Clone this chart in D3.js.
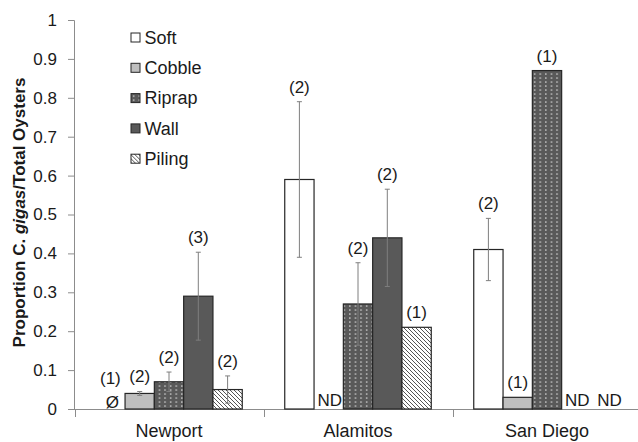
<!DOCTYPE html>
<html>
<head>
<meta charset="utf-8">
<script src="https://cdn.jsdelivr.net/npm/d3@7/dist/d3.min.js"></script>
<style>
  html, body { margin: 0; padding: 0; background: #fff; }
  svg { display: block; font-family: "Liberation Sans", Arial, Helvetica, sans-serif; }
</style>
</head>
<body>
<svg id="chart" width="638" height="442"></svg>
<script>
// Sites and substrate types
const sites = ["Newport", "Alamitos", "San Diego"];
const types = ["Soft", "Cobble", "Riprap", "Wall", "Piling"];

// Mean proportion per type, one entry per site (null = no data)
const soft   = [0,    0.59, 0.41];
const cobble = [0.04, null, 0.03];
const riprap = [0.07, 0.27, 0.87];
const wall   = [0.29, 0.44, null];
const piling = [0.05, 0.21, null];

// Error bar half-widths (null = none drawn)
const softErr   = [null,  0.20,  0.08];
const cobbleErr = [0.005, null,  null];
const riprapErr = [0.025, 0.106, null];
const wallErr   = [0.113, 0.125, null];
const pilingErr = [0.035, null,  null];

// Sample sizes shown above each bar (null = ND)
const softN   = [1, 2, 2];
const cobbleN = [2, null, 1];
const riprapN = [2, 2, 1];
const wallN   = [3, 2, null];
const pilingN = [2, 1, null];

const yTicks = [0, 0.1, 0.2, 0.3, 0.4, 0.5, 0.6, 0.7, 0.8, 0.9, 1];

const seriesValues = [soft, cobble, riprap, wall, piling];
const seriesErrors = [softErr, cobbleErr, riprapErr, wallErr, pilingErr];
const seriesN = [softN, cobbleN, riprapN, wallN, pilingN];

const rows = [];
sites.forEach((site, si) => {
  types.forEach((type, ti) => {
    rows.push({
      site, type,
      value: seriesValues[ti][si],
      err: seriesErrors[ti][si],
      n: seriesN[ti][si]
    });
  });
});

const svg = d3.select("#chart");

// Fill patterns
const defs = svg.append("defs");
const dots = defs.append("pattern")
  .attr("id", "pat-riprap").attr("patternUnits", "userSpaceOnUse")
  .attr("width", 5.6).attr("height", 4);
dots.append("rect").attr("width", 5.6).attr("height", 4).attr("fill", "#595959");
dots.append("rect").attr("x", 2).attr("y", 1.4).attr("width", 1.3).attr("height", 1.3).attr("fill", "#e6e6e6");

const hatch = defs.append("pattern")
  .attr("id", "pat-piling").attr("patternUnits", "userSpaceOnUse")
  .attr("width", 4).attr("height", 4);
hatch.append("rect").attr("width", 4).attr("height", 4).attr("fill", "#fff");
hatch.append("path").attr("d", "M0,0 L4,4 M-1,3 L1,5 M3,-1 L5,1")
  .attr("stroke", "#555").attr("stroke-width", 1);

const fills = {
  Soft: "#ffffff",
  Cobble: "#bfbfbf",
  Riprap: "url(#pat-riprap)",
  Wall: "#595959",
  Piling: "url(#pat-piling)"
};

// Scales
const x0 = d3.scaleBand().domain(sites).range([74.5, 641.5]).padding(0);
const x1 = d3.scaleBand().domain(types).range([0, x0.bandwidth()])
  .paddingInner(0).paddingOuter(0.725);
const y = d3.scaleLinear().domain([0, 1]).range([409, 20]);

const axisColor = "#8c8c8c";

// Y axis
const yAxis = svg.append("g")
  .attr("transform", "translate(74,0)")
  .call(d3.axisLeft(y).tickValues(yTicks).tickSize(6).tickPadding(11)
    .tickFormat(d3.format("~g")));
yAxis.select(".domain").attr("stroke", axisColor);
yAxis.selectAll(".tick line").attr("stroke", axisColor);
yAxis.selectAll(".tick text")
  .attr("font-size", 17).attr("fill", "#1a1a1a")
  .style("font-family", "'Liberation Sans', Arial, sans-serif");

// X axis
const xAxis = svg.append("g")
  .attr("transform", "translate(0,409)")
  .call(d3.axisBottom(x0).tickSize(0).tickPadding(15));
xAxis.select(".domain").attr("stroke", axisColor).attr("d", "M74,0.5H638");
xAxis.selectAll(".tick text")
  .attr("font-size", 18).attr("fill", "#1a1a1a")
  .style("font-family", "'Liberation Sans', Arial, sans-serif");

// Category boundary ticks
const bounds = sites.map(s => x0(s)).concat([x0.range()[1]]);
svg.append("g").selectAll("line").data(bounds).join("line")
  .attr("x1", d => Math.round(d) + 0.5).attr("x2", d => Math.round(d) + 0.5)
  .attr("y1", 409).attr("y2", 417)
  .attr("stroke", axisColor);

// Bars
const bars = rows.filter(d => d.value !== null && d.value > 0);
svg.append("g").selectAll("rect").data(bars).join("rect")
  .attr("x", d => x0(d.site) + x1(d.type))
  .attr("y", d => y(d.value))
  .attr("width", x1.bandwidth())
  .attr("height", d => y(0) - y(d.value))
  .attr("fill", d => fills[d.type])
  .attr("stroke", "#262626")
  .attr("stroke-width", 1.2);

// Error bars
const errs = rows.filter(d => d.err !== null && d.value !== null);
const eg = svg.append("g").attr("stroke", "#7f7f7f").attr("stroke-width", 1);
const cx = d => x0(d.site) + x1(d.type) + x1.bandwidth() / 2;
eg.selectAll("line.v").data(errs).join("line").attr("class", "v")
  .attr("x1", cx).attr("x2", cx)
  .attr("y1", d => y(d.value + d.err)).attr("y2", d => y(d.value - d.err));
eg.selectAll("line.t").data(errs).join("line").attr("class", "t")
  .attr("x1", d => cx(d) - 2.5).attr("x2", d => cx(d) + 2.5)
  .attr("y1", d => y(d.value + d.err)).attr("y2", d => y(d.value + d.err));
eg.selectAll("line.b").data(errs).join("line").attr("class", "b")
  .attr("x1", d => cx(d) - 2.5).attr("x2", d => cx(d) + 2.5)
  .attr("y1", d => y(d.value - d.err)).attr("y2", d => y(d.value - d.err));

// Zero marker
svg.append("g").selectAll("text").data(rows.filter(d => d.value === 0)).join("text")
  .attr("x", d => cx(d) + 2).attr("y", y(0) - 1)
  .attr("text-anchor", "middle").attr("font-size", 17).attr("fill", "#1a1a1a")
  .text("Ø");

// Sample-size labels
const labelTop = d => {
  if (d.value === 0) return y(0) - 16;
  return y(d.value + (d.err || 0));
};
svg.append("g").selectAll("text").data(rows.filter(d => d.n !== null)).join("text")
  .attr("x", cx).attr("y", d => labelTop(d) - 9)
  .attr("text-anchor", "middle").attr("font-size", 17).attr("fill", "#1a1a1a")
  .text(d => `(${d.n})`);

// ND labels
svg.append("g").selectAll("text").data(rows.filter(d => d.n === null)).join("text")
  .attr("x", d => cx(d) + (d.type === "Piling" ? 4 : 1)).attr("y", y(0) - 3)
  .attr("text-anchor", "middle").attr("font-size", 17).attr("fill", "#1a1a1a")
  .text("ND");

// Y axis title
const title = svg.append("text")
  .attr("transform", "translate(25,212.5) rotate(-90)")
  .attr("text-anchor", "middle")
  .attr("font-size", 17).attr("font-weight", "bold").attr("fill", "#1a1a1a");
title.append("tspan").text("Proportion C. ");
title.append("tspan").attr("font-style", "italic").text("gigas");
title.append("tspan").text("/Total Oysters");

// Legend
const legend = svg.append("g").selectAll("g").data(types).join("g")
  .attr("transform", (d, i) => `translate(131,${37.5 + i * 30.3})`);
legend.append("rect")
  .attr("x", 0).attr("y", -4.5).attr("width", 9).attr("height", 9)
  .attr("fill", d => fills[d]).attr("stroke", "#262626").attr("stroke-width", 1);
legend.append("text")
  .attr("x", 13.5).attr("dy", "0.35em")
  .attr("font-size", 18).attr("fill", "#1a1a1a")
  .text(d => d);
</script>
</body>
</html>
